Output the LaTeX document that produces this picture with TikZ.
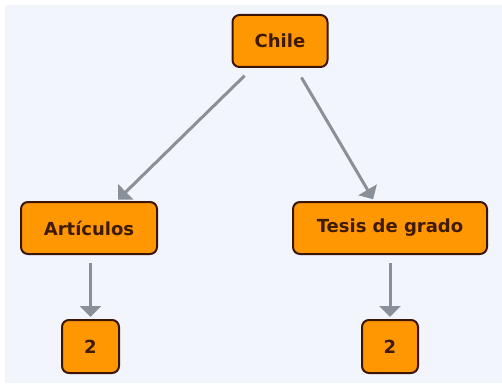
\documentclass[tikz,border=0pt]{standalone}
\usepackage{fontspec}
\setmainfont{DejaVu Sans}
\usetikzlibrary{arrows.meta}
\definecolor{bgblue}{HTML}{F2F5FC}
\definecolor{boxfill}{HTML}{FF9703}
\definecolor{boxline}{HTML}{3A1508}
\definecolor{boxtext}{HTML}{3F1A05}
\definecolor{arrowgray}{HTML}{8A9099}
\tikzset{
  concept/.style={draw=boxline, fill=boxfill, line width=2pt, rounded corners=7pt,
    text=boxtext, font=\fontsize{18}{21}\selectfont\bfseries, inner sep=0pt,
    minimum height=52pt, align=center},
  link/.style={draw=arrowgray, line width=3pt, -{Triangle[length=11pt,width=21pt]}}
}
\begin{document}
\begin{tikzpicture}[x=1pt,y=1pt]
\useasboundingbox (0,0) rectangle (502,383);
\fill[white] (0,0) rectangle (502,383);
\fill[bgblue] (5,0) rectangle (502,378);
\node[concept, minimum width=95pt] (chile) at (280,342) {Chile};
\node[concept, minimum width=136pt] (art) at (89,155) {Artículos};
\node[concept, minimum width=194pt] (tesis) at (390,155) {Tesis de grado};
\node[concept, minimum width=57pt, minimum height=53pt] (n1) at (90.5,36.5) {2};
\node[concept, minimum width=56pt, minimum height=53pt] (n2) at (390,36.5) {2};
\draw[link, shorten <=11pt, shorten >=2pt] (chile) -- (art);
\draw[link, shorten <=11pt, shorten >=2pt] (chile) -- (tesis);
\draw[link, shorten <=8pt, shorten >=2pt] (art.south -| n1) -- (n1.north);
\draw[link, shorten <=8pt, shorten >=2pt] (tesis.south -| n2) -- (n2.north);
\end{tikzpicture}
\end{document}
